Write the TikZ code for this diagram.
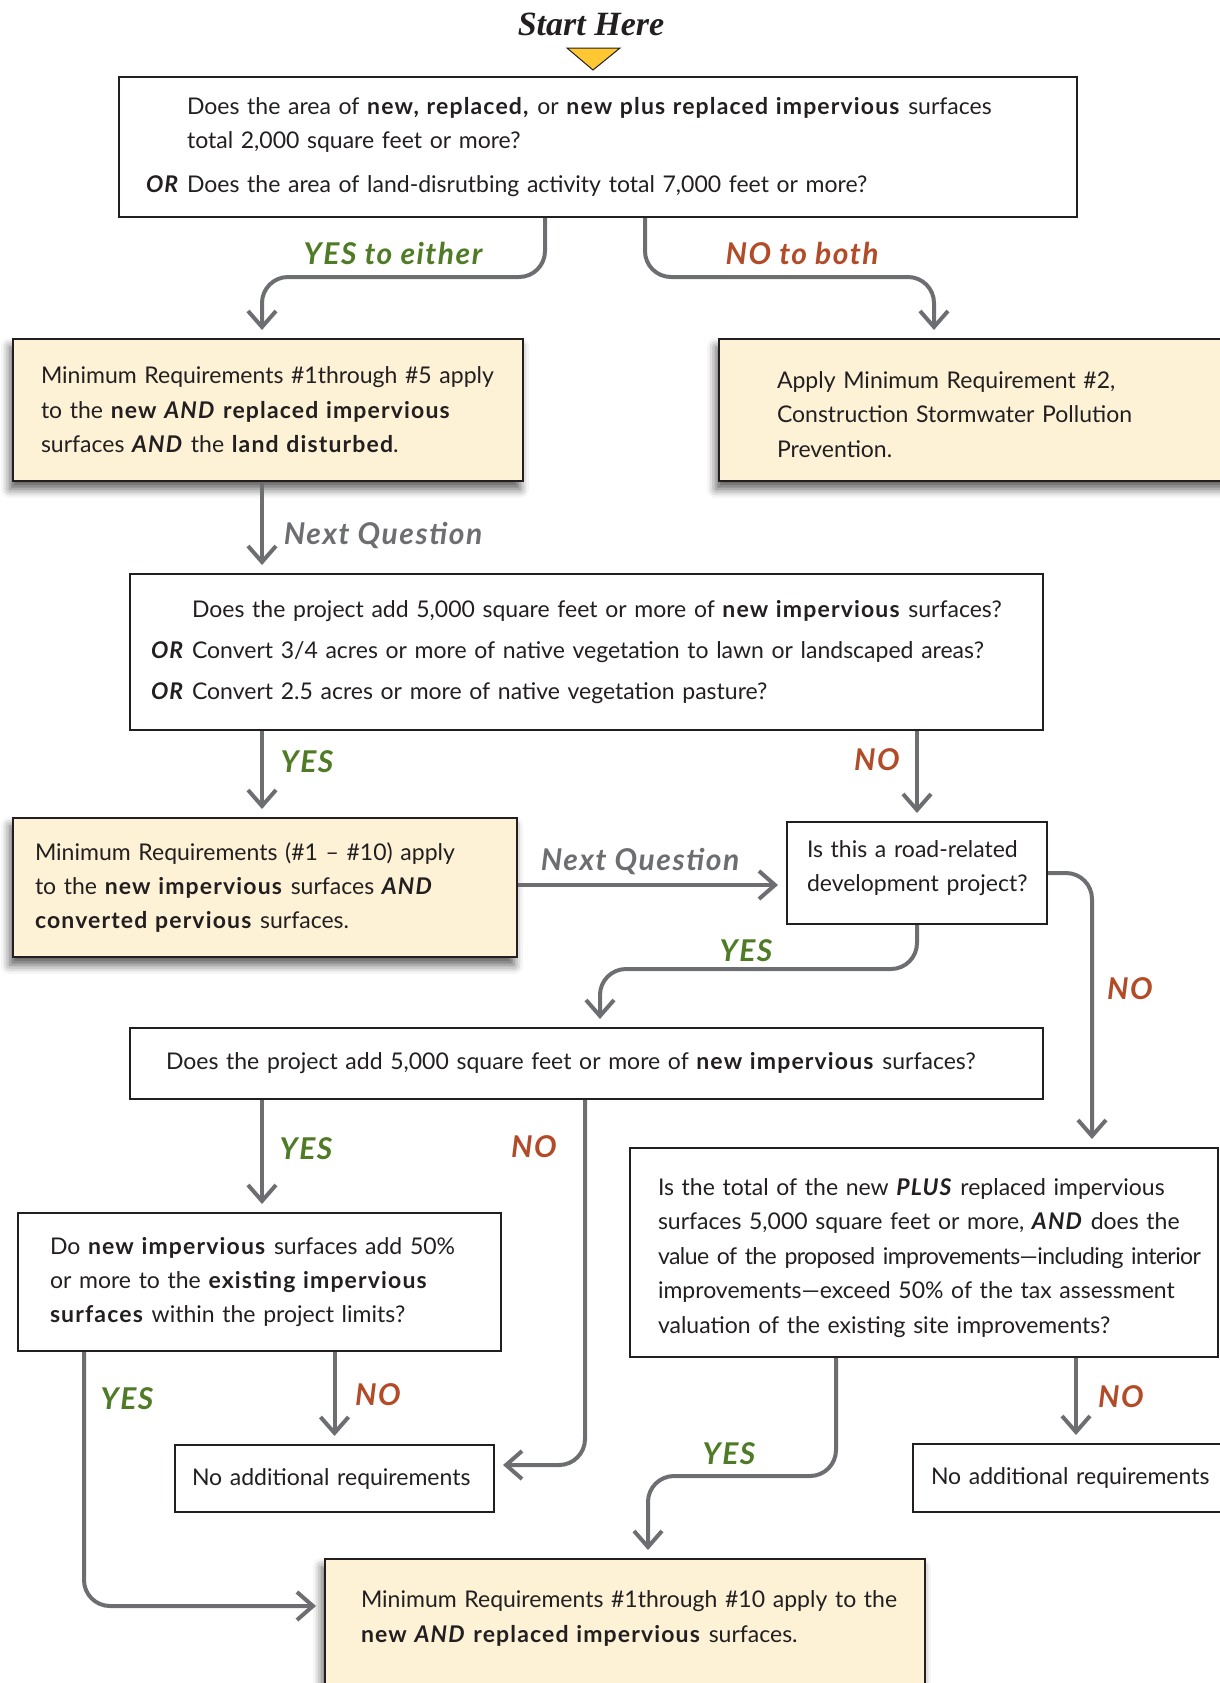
\documentclass[tikz,border=0pt]{standalone}
\usepackage{fontspec}
\setmainfont{Lato}[BoldFeatures={LetterSpace=5}, BoldItalicFeatures={LetterSpace=5}]
\newfontfamily\startfont{Liberation Serif}
\usetikzlibrary{arrows.meta, positioning, shadows.blur}
\definecolor{ink}{RGB}{35,31,32}
\definecolor{cream}{RGB}{253,241,214}
\definecolor{wire}{RGB}{109,110,113}
\definecolor{yesgreen}{RGB}{79,122,38}
\definecolor{nored}{RGB}{178,75,40}
\definecolor{startyel}{RGB}{255,200,50}
\newcommand{\kw}[1]{\textbf{#1}}
\newcommand{\kwi}[1]{\textbf{\textit{#1}}}
\newcommand{\nb}[1]{\mbox{#1}}
\newcommand{\orpad}{\hphantom{\kwi{OR} }}
\newcommand{\boxfont}{\fontsize{11.5pt}{17.2pt}\selectfont}
\newcommand{\labfont}{\fontsize{15pt}{17pt}\selectfont\bfseries\itshape}
\tikzset{
  qbox/.style ={draw=ink, line width=1pt, fill=white, align=left,
                inner ysep=4pt, text=ink, font=\boxfont},
  rbox/.style ={qbox, fill=cream,
                blur shadow={shadow xshift=-1.5pt, shadow yshift=-4pt,
                             shadow blur radius=4.5pt, shadow opacity=65}},
  ar/.style   ={-{Straight Barb[length=8pt, width=14pt]}, line width=2pt,
                draw=wire, rounded corners=13pt, shorten >=4pt},
  ylab/.style ={font=\labfont, text=yesgreen},
  nlab/.style ={font=\labfont, text=nored},
  qlab/.style ={font=\labfont, text=wire},
}
\begin{document}
\begin{tikzpicture}[x=0.5pt, y=-0.5pt]
  \useasboundingbox (0,0) rectangle (1220,1683);

  % start marker
  \node[font=\startfont\bfseries\itshape\fontsize{17pt}{20pt}\selectfont, text=ink]
    (start) at (591,24) {Start Here};
  \draw[fill=startyel, draw=ink, line width=0.5pt]
    (567,48) -- (620,48) -- (593,70) -- cycle;

  % boxes
  \node[qbox, minimum width=479pt, minimum height=70pt, text width=452pt,
        inner xsep=13.5pt] (q1) at (598,147)
    {\nb{\orpad Does the area of \kw{new, replaced,} or \kw{new plus replaced impervious} surfaces}\\
     \orpad total 2,000 square feet or more?\\[5pt]
     \nb{\kwi{OR} Does the area of land-disrutbing activity total 7,000 feet or more?}};
  \node[rbox, minimum width=255pt, minimum height=71pt, text width=227pt,
        inner xsep=14pt] (mr5) at (268,410)
    {\nb{Minimum Requirements \#1through \#5 apply}\\
     \nb{to the \kw{new \textit{AND} replaced impervious}}\\
     \nb{surfaces \kwi{AND} the \kw{land disturbed}.}};
  \node[rbox, minimum width=270.5pt, minimum height=71pt, text width=212.5pt,
        inner xsep=29pt, text height=12.8pt] (mr2) at (989.5,410)
    {Apply Minimum Requirement \#2,\\
     \nb{Construction Stormwater Pollution}\\
     Prevention.};
  \node[qbox, minimum width=456.5pt, minimum height=78pt, text width=435.5pt,
        inner xsep=10.5pt] (q2) at (586.5,652)
    {\nb{\orpad Does the project add 5,000 square feet or more of \kw{new impervious} surfaces?}\\[3.5pt]
     \nb{\kwi{OR} Convert 3/4 acres or more of native vegetation to lawn or landscaped areas?}\\[3.5pt]
     \nb{\kwi{OR} Convert 2.5 acres or more of native vegetation pasture?}};
  \node[rbox, minimum width=252pt, minimum height=69.5pt, text width=230pt,
        inner xsep=11pt] (mr10a) at (265,887.5)
    {\nb{Minimum Requirements (\#1 -- \#10) apply}\\
     \nb{to the \kw{new impervious} surfaces \kwi{AND}}\\
     \nb{\kw{converted pervious} surfaces.}};
  \node[qbox, minimum width=130pt, minimum height=51pt, text width=110pt,
        inner xsep=10pt, text depth=24pt] (road) at (917,873)
    {\nb{Is this a road-related}\\ \nb{development project?}};
  \node[qbox, minimum width=456.5pt, minimum height=35.5pt, text width=420.5pt,
        inner xsep=18pt] (q3) at (586.5,1063.5)
    {\nb{Does the project add 5,000 square feet or more of \kw{new impervious} surfaces?}};
  \node[qbox, minimum width=241.5pt, minimum height=69pt, text width=209.5pt,
        inner xsep=16pt] (q4) at (259.5,1282)
    {\nb{Do \kw{new impervious} surfaces add 50\%}\\
     \nb{or more to the \kw{existing impervious}}\\
     \nb{\kw{surfaces} within the project limits?}};
  \node[qbox, minimum width=294pt, minimum height=104.5pt, text width=266pt,
        inner xsep=14pt, text height=13.9pt] (q5) at (924,1252.5)
    {\nb{Is the total of the new \kwi{PLUS} replaced impervious}\\
     \nb{surfaces 5,000 square feet or more, \kwi{AND} does the}\\
     \nb{\addfontfeature{LetterSpace=-2.5}value of the proposed improvements---including interior}\\
     \nb{improvements---exceed 50\% of the tax assessment}\\
     \nb{valuation of the existing site improvements?}};
  \node[qbox, minimum width=159.5pt, minimum height=33.5pt, text width=142.5pt,
        inner xsep=8.5pt] (none1) at (334.5,1478.5) {\nb{No additional requirements}};
  \node[qbox, minimum width=173.5pt, minimum height=34pt, text width=155.5pt,
        inner xsep=9pt] (none2) at (1086.5,1478) {\nb{No additional requirements}};
  \node[rbox, anchor=north, minimum width=300pt, text width=264pt,
        inner xsep=18pt, inner ysep=16pt, text depth=70pt] (mr10b) at (625,1558)
    {\nb{Minimum Requirements \#1through \#10 apply to the}\\
     \nb{\kw{new \textit{AND} replaced impervious} surfaces.}};

  % connectors
  \coordinate (colA) at (262,0);
  \coordinate (colB) at (934,0);
  \coordinate (kA) at (545,277);
  \coordinate (kB) at (645,277);
  \draw[ar] (q1.south -| kA) -- (kA) -| (colA |- mr5.north);
  \draw[ar] (q1.south -| kB) -- (kB) -| (colB |- mr2.north);
  \draw[ar] (colA |- mr5.south) -- (colA |- q2.north);
  \draw[ar] (colA |- q2.south) -- (colA |- mr10a.north);
  \draw[ar] (q2.south -| road) -- (road.north);
  \coordinate (rowN) at (0,885);
  \draw[ar] (rowN -| mr10a.east) -- (rowN -| road.west);
  \coordinate (kC) at (917,969);
  \coordinate (colC) at (600,0);
  \draw[ar] (road.south) -- (kC) -| (colC |- q3.north);
  \coordinate (colD) at (1092,0);
  \draw[ar] (road.east) -| (colD |- q5.north);
  \draw[ar] (colA |- q3.south) -- (colA |- q4.north);
  \coordinate (colE) at (585,0);
  \coordinate (rowF) at (0,1465);
  \draw[ar] (colE |- q3.south) |- (rowF -| none1.east);
  \coordinate (colG) at (84,0);
  \coordinate (rowH) at (0,1606);
  \draw[ar] (colG |- q4.south) |- (rowH -| mr10b.west);
  \draw[ar] (q4.south -| none1) -- (none1.north);
  \coordinate (kI) at (836,1476);
  \coordinate (colJ) at (648,0);
  \draw[ar] (q5.south -| kI) -- (kI) -| (colJ |- mr10b.north);
  \coordinate (colK) at (1076,0);
  \draw[ar] (colK |- q5.south) -- (colK |- none2.north);

  % branch labels
  \node[ylab] (lyes1) at (393,253) {YES to either};
  \node[nlab] (lno1)  at (802,253) {NO to both};
  \node[qlab] (lnxt1) at (383,535) {Next Question};
  \node[ylab] (lyes2) at (307,762) {YES};
  \node[nlab] (lno2)  at (877,760) {NO};
  \node[qlab] (lnxt2) at (640,861) {Next Question};
  \node[ylab] (lyes3) at (746,951) {YES};
  \node[nlab] (lno3)  at (1130,989) {NO};
  \node[ylab] (lyes4) at (306,1149) {YES};
  \node[nlab] (lno4)  at (534,1147) {NO};
  \node[ylab] (lyes5) at (127,1399) {YES};
  \node[nlab] (lno5)  at (378,1395) {NO};
  \node[ylab] (lyes6) at (729,1454) {YES};
  \node[nlab] (lno6)  at (1121,1397) {NO};
\end{tikzpicture}
\end{document}
